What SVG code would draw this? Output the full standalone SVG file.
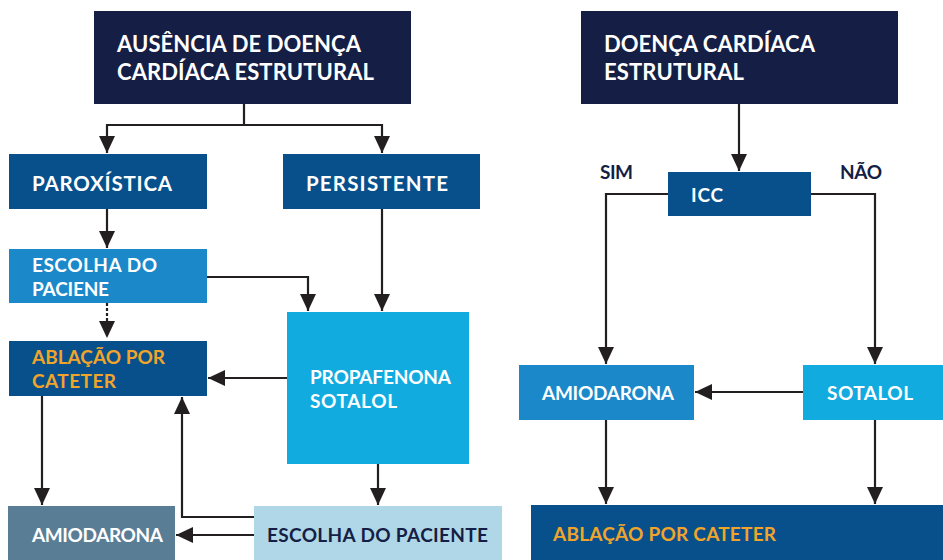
<svg xmlns="http://www.w3.org/2000/svg" width="943" height="560" viewBox="0 0 943 560">
<defs>
<marker id="ah" markerUnits="userSpaceOnUse" markerWidth="18" markerHeight="18" refX="17" refY="8" orient="auto">
<path d="M0,0 L17,8 L0,16 Z" fill="#231f20"/>
</marker>
<style>
.t{font-family:Lato,"Open Sans","Liberation Sans",sans-serif;font-weight:bold;fill:#ffffff}
.big{font-size:22px}
.mid{font-size:20.5px}
.sm{font-size:19px}
.or{fill:#f0a52a}
.dk{fill:#151e45}
.c{fill:none;stroke:#231f20;stroke-width:2.2}
</style>
</defs>
<rect width="943" height="560" fill="#ffffff"/>
<g id="connectors">
<path class="c" d="M244,104 V125 M107,125 H382"/>
<path class="c" d="M107,124 V153" marker-end="url(#ah)"/>
<path class="c" d="M382,124 V153" marker-end="url(#ah)"/>
<path class="c" d="M107,209 V248" marker-end="url(#ah)"/>
<path class="c" d="M207,277 H308 V311" marker-end="url(#ah)"/>
<path class="c" d="M382,209 V311" marker-end="url(#ah)"/>
<path class="c" d="M107,303 V322" stroke-dasharray="3,2"/>
<path d="M99,321 L115,321 L107,338 Z" fill="#231f20"/>
<path class="c" d="M287,378 H208" marker-end="url(#ah)"/>
<path class="c" d="M42,396 V505" marker-end="url(#ah)"/>
<path class="c" d="M378,464 V505" marker-end="url(#ah)"/>
<path class="c" d="M254,517 H182 V397" marker-end="url(#ah)"/>
<path class="c" d="M254,535 H176" marker-end="url(#ah)"/>
<path class="c" d="M739,104 V171" marker-end="url(#ah)"/>
<path class="c" d="M668,194 H606 V364" marker-end="url(#ah)"/>
<path class="c" d="M811,194 H875 V364" marker-end="url(#ah)"/>
<path class="c" d="M803,392 H695" marker-end="url(#ah)"/>
<path class="c" d="M606,420 V504" marker-end="url(#ah)"/>
<path class="c" d="M875,420 V504" marker-end="url(#ah)"/>
</g>
<g id="n-ausencia">
<rect x="94" y="11" width="317" height="93" fill="#151e45"/>
<text class="t big" x="117" y="52" textLength="244">AUSÊNCIA DE DOENÇA</text>
<text class="t big" x="117" y="80" textLength="257">CARDÍACA ESTRUTURAL</text>
</g>
<g id="n-paroxistica">
<rect x="9" y="154" width="198" height="55" fill="#07508c"/>
<text class="t mid" x="32" y="191" textLength="140">PAROXÍSTICA</text>
</g>
<g id="n-persistente">
<rect x="283" y="154" width="197" height="55" fill="#07508c"/>
<text class="t mid" x="306" y="191" textLength="142">PERSISTENTE</text>
</g>
<g id="n-escolha1">
<rect x="9" y="249" width="198" height="54" fill="#1a88c9"/>
<text class="t sm" x="32" y="272" textLength="125">ESCOLHA DO</text>
<text class="t sm" x="32" y="296" textLength="77">PACIENE</text>
</g>
<g id="n-ablacao1">
<rect x="9" y="341" width="198" height="55" fill="#07508c"/>
<text class="t sm or" x="32" y="364" textLength="133">ABLAÇÃO POR</text>
<text class="t sm or" x="32" y="388" textLength="84">CATETER</text>
</g>
<g id="n-propafenona">
<rect x="287" y="312" width="182" height="152" fill="#12abe0"/>
<text class="t sm" x="310" y="384" textLength="141">PROPAFENONA</text>
<text class="t sm" x="310" y="408" textLength="87">SOTALOL</text>
</g>
<g id="n-amiodarona1">
<rect x="8" y="506" width="167" height="54" fill="#5a7d96"/>
<text class="t sm" x="32" y="542" textLength="131">AMIODARONA</text>
</g>
<g id="n-escolha2">
<rect x="254" y="506" width="248" height="54" fill="#b0d7e8"/>
<text class="t sm dk" x="267" y="542" textLength="221">ESCOLHA DO PACIENTE</text>
</g>
<g id="n-doenca">
<rect x="581" y="11" width="317" height="93" fill="#151e45"/>
<text class="t big" x="604" y="52" textLength="211">DOENÇA CARDÍACA</text>
<text class="t big" x="604" y="80" textLength="140">ESTRUTURAL</text>
</g>
<g id="n-icc">
<rect x="668" y="172" width="143" height="44" fill="#07508c"/>
<text class="t sm" x="691" y="202" textLength="32">ICC</text>
</g>
<g id="labels">
<text class="t sm dk" x="600" y="179" textLength="33">SIM</text>
<text class="t sm dk" x="840" y="179" textLength="42">NÃO</text>
</g>
<g id="n-amiodarona2">
<rect x="519" y="365" width="175" height="55" fill="#1a88c9"/>
<text class="t sm" x="542" y="400" textLength="132">AMIODARONA</text>
</g>
<g id="n-sotalol">
<rect x="803" y="365" width="140" height="55" fill="#12abe0"/>
<text class="t sm" x="827" y="400" textLength="86">SOTALOL</text>
</g>
<g id="n-ablacao2">
<rect x="531" y="505" width="412" height="55" fill="#07508c"/>
<text class="t sm or" x="553" y="541" textLength="223">ABLAÇÃO POR CATETER</text>
</g>
</svg>
